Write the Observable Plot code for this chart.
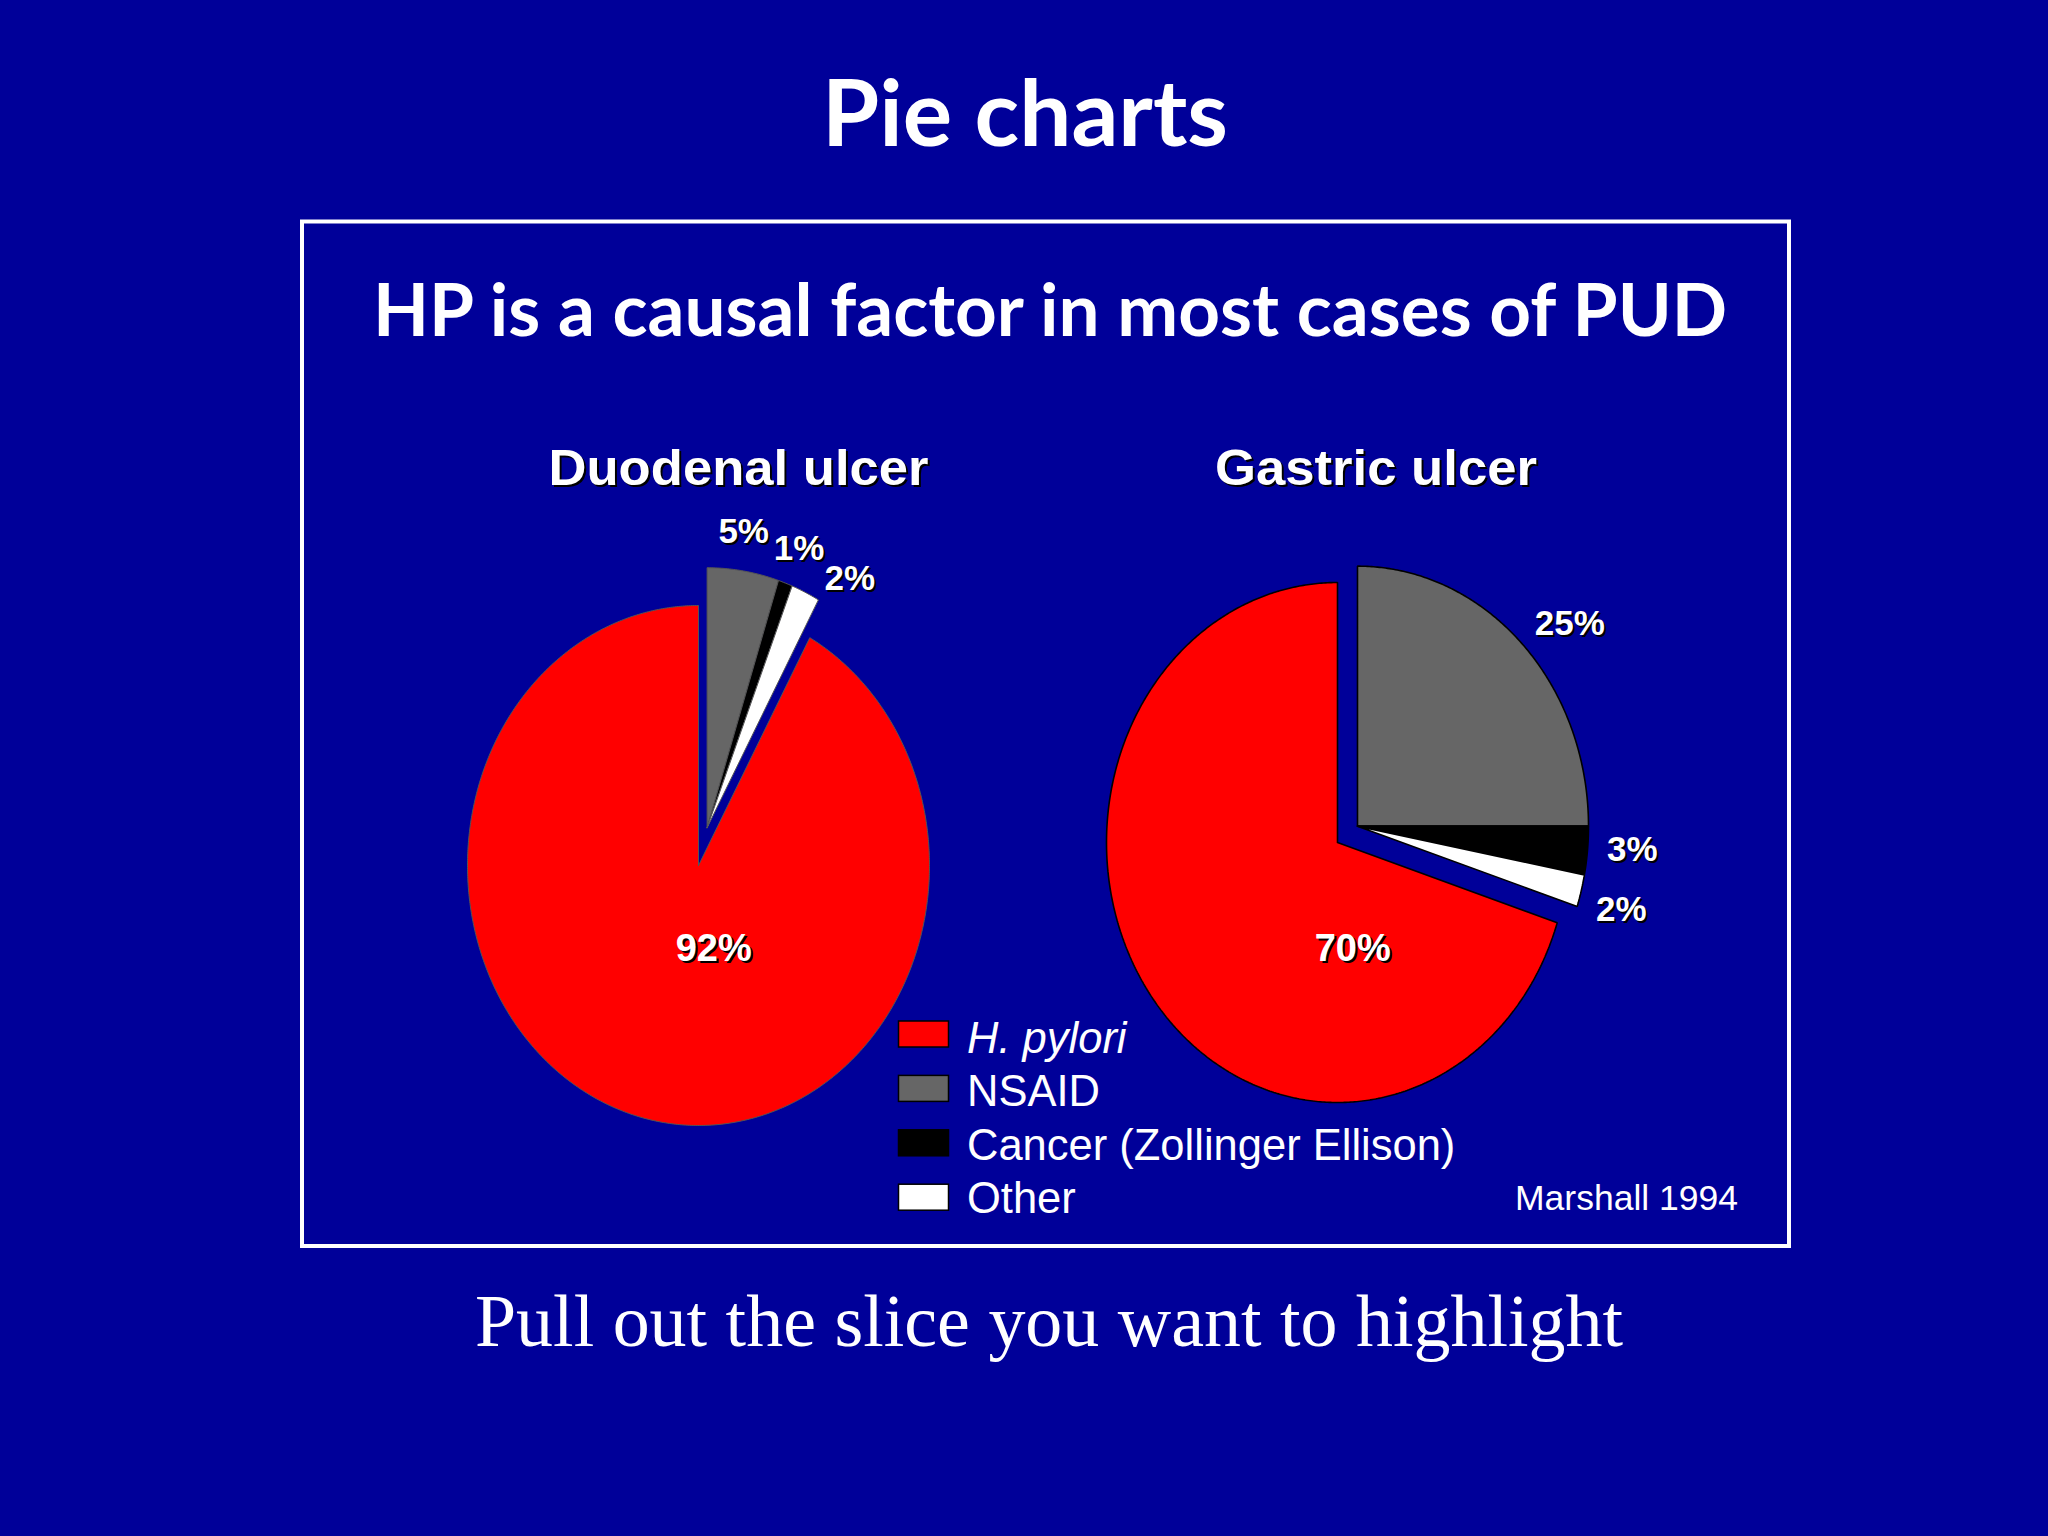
<!DOCTYPE html>
<html>
<head>
<meta charset="utf-8">
<script src="https://cdn.jsdelivr.net/npm/d3@7"></script>
<script src="https://cdn.jsdelivr.net/npm/@observablehq/plot@0.6"></script>
<style>
  html, body { margin: 0; padding: 0; background: #000099; width: 2048px; height: 1536px; overflow: hidden; }
  #chart, #overlay { position: absolute; left: 0; top: 0; }
</style>
</head>
<body>
<div id="chart"></div>
<svg id="overlay" width="2048" height="1536"></svg>
<script>
// ---------------- data ----------------
const categories = ["H. pylori", "NSAID", "Cancer (Zollinger Ellison)", "Other"];
const categoryColors = ["#ff0000", "#666666", "#000000", "#ffffff"];
const ulcerTypes = ["Duodenal ulcer", "Gastric ulcer"];
const duodenalValues = [92, 5, 1, 2];   // % per category
const gastricValues = [70, 25, 3, 2];   // % per category
const slideTitle = "Pie charts";
const chartTitle = "HP is a causal factor in most cases of PUD";
const sourceNote = "Marshall 1994";
const caption = "Pull out the slice you want to highlight";

// ---------------- layout ----------------
const W = 2048, H = 1536;
const RX = 231, RY = 260;                 // pixels per radius unit (x / y)
const origin = {px: 698, py: 865};        // pixel position of data (0,0)
const pieLayout = [
  {cx: 0, cy: 0, explode: 0.15, stroke: "#555555", strokeWidth: 1},
  {cx: (1337 - 698) / RX, cy: (865 - 842) / RY, explode: 0.107, stroke: "#000000", strokeWidth: 1.6}
];
const pieValues = [duodenalValues, gastricValues];
// inside labels share one row, a little below the lowest pie centre
const insideRowY = Math.min(...pieLayout.map(p => p.cy)) - 0.32;

const sliceRows = [];
const labelRows = [];
const deg = Math.PI / 180;

pieValues.forEach((values, pi) => {
  const L = pieLayout[pi];
  const total = d3.sum(values);
  const start = -values[0] / total * 2 * Math.PI;
  const arcs = d3.pie().sort(null).value(d => d).startAngle(start).endAngle(start + 2 * Math.PI)(values);
  const gMid = (arcs[1].startAngle + arcs[arcs.length - 1].endAngle) / 2;
  const ox = L.explode * Math.sin(gMid), oy = L.explode * Math.cos(gMid);
  let prevAngle = -Infinity;
  arcs.forEach((a, i) => {
    const pulled = i > 0;
    const bx = L.cx + (pulled ? ox : 0), by = L.cy + (pulled ? oy : 0);
    const id = pi + "-" + i;
    const cat = categories[i];
    const n = Math.max(2, Math.ceil((a.endAngle - a.startAngle) / (0.5 * deg)));
    sliceRows.push({id, pie: pi, cat, x: bx, y: by});
    for (let k = 0; k <= n; k++) {
      const t = a.startAngle + (a.endAngle - a.startAngle) * k / n;
      sliceRows.push({id, pie: pi, cat, x: bx + Math.sin(t), y: by + Math.cos(t)});
    }
    sliceRows.push({id, pie: pi, cat, x: bx, y: by});

    const share = a.value / total;
    if (share > 0.5) {
      labelRows.push({pie: pi, text: a.value + "%", x: L.cx + 0.066, y: insideRowY, anchor: "middle", size: 38});
    } else {
      let t = (a.startAngle + a.endAngle) / 2;
      t = Math.max(t, prevAngle + 12.5 * deg);
      prevAngle = t;
      let tn = ((t % (2 * Math.PI)) + 2 * Math.PI) % (2 * Math.PI);
      let anchor = "middle";
      if (tn > 40 * deg && tn < 140 * deg) anchor = "start";
      else if (tn > 220 * deg && tn < 320 * deg) anchor = "end";
      const r = anchor === "middle" ? 1.14 : 1.085;
      labelRows.push({pie: pi, text: a.value + "%", x: bx + r * Math.sin(t) - (anchor === "middle" ? 0.02 : 0), y: by + r * Math.cos(t) + 0.012, anchor, size: 35});
    }
  });
});

const labelFont = "'Liberation Sans', Arial, Helvetica, sans-serif";
const textMarks = [];
for (const anchor of ["start", "middle", "end"]) {
  const rows = labelRows.filter(d => d.anchor === anchor);
  if (!rows.length) continue;
  textMarks.push(Plot.text(rows, {x: "x", y: "y", text: "text", fontSize: "size", textAnchor: anchor,
    fill: "#000000", dx: 2, dy: 2, fontWeight: "bold", fontFamily: labelFont}));
  textMarks.push(Plot.text(rows, {x: "x", y: "y", text: "text", fontSize: "size", textAnchor: anchor,
    fill: "#ffffff", fontWeight: "bold", fontFamily: labelFont}));
}

const chart = Plot.plot({
  width: W, height: H, margin: 0,
  x: {domain: [-origin.px / RX, (W - origin.px) / RX], axis: null},
  y: {domain: [(origin.py - H) / RY, origin.py / RY], axis: null},
  color: {domain: categories, range: categoryColors},
  style: {background: "transparent", overflow: "visible"},
  marks: [
    ...pieLayout.map((L, pi) => Plot.line(sliceRows.filter(d => d.pie === pi), {
      x: "x", y: "y", z: "id", fill: "cat", stroke: L.stroke, strokeWidth: L.strokeWidth, strokeLinejoin: "miter"
    })),
    ...textMarks
  ]
});
document.getElementById("chart").appendChild(chart);

// ---------------- titles, frame, legend, caption ----------------
const ov = d3.select("#overlay");
ov.append("rect").attr("x", 302).attr("y", 221.5).attr("width", 1487).attr("height", 1024.5)
  .attr("fill", "none").attr("stroke", "#ffffff").attr("stroke-width", 4);

function txt(s, o) {
  const t = ov.append("text").text(s)
    .attr("x", o.x).attr("y", o.y)
    .attr("text-anchor", o.anchor || "start")
    .attr("font-family", o.font)
    .attr("font-size", o.size)
    .attr("font-weight", o.weight || "normal")
    .attr("font-style", o.style || "normal")
    .attr("fill", o.fill || "#ffffff");
  if (o.len) t.attr("textLength", o.len).attr("lengthAdjust", "spacingAndGlyphs");
  return t;
}
const calibriLike = "Lato, 'Open Sans', sans-serif";
const arialLike = "'Liberation Sans', Arial, Helvetica, sans-serif";
const timesLike = "'Liberation Serif', 'Times New Roman', serif";

txt(slideTitle, {x: 1025, y: 146, anchor: "middle", font: calibriLike, size: 92, weight: "bold", len: 406});
txt(chartTitle, {x: 1050, y: 336, anchor: "middle", font: calibriLike, size: 73, weight: "bold", len: 1354});

const pieTitleX = [738.5, 1376], pieTitleLen = [380, 322];
ulcerTypes.forEach((name, i) => {
  txt(name, {x: pieTitleX[i] + 2, y: 487, anchor: "middle", font: arialLike, size: 50, weight: "bold", len: pieTitleLen[i], fill: "#000000"});
  txt(name, {x: pieTitleX[i], y: 485, anchor: "middle", font: arialLike, size: 50, weight: "bold", len: pieTitleLen[i]});
});

categories.forEach((c, i) => {
  ov.append("rect").attr("x", 898.5).attr("y", 1021 + i * 54.4).attr("width", 50).attr("height", 26)
    .attr("fill", categoryColors[i]).attr("stroke", "#000000").attr("stroke-width", 1.5);
  txt(c, {x: 967, y: 1052.7 + i * 53.5, font: arialLike, size: 43.5, style: i === 0 ? "italic" : "normal"});
});

txt(sourceNote, {x: 1515, y: 1210, font: arialLike, size: 35.5, len: 223});
txt(caption, {x: 1049, y: 1346, anchor: "middle", font: timesLike, size: 74, len: 1148});
</script>
</body>
</html>
